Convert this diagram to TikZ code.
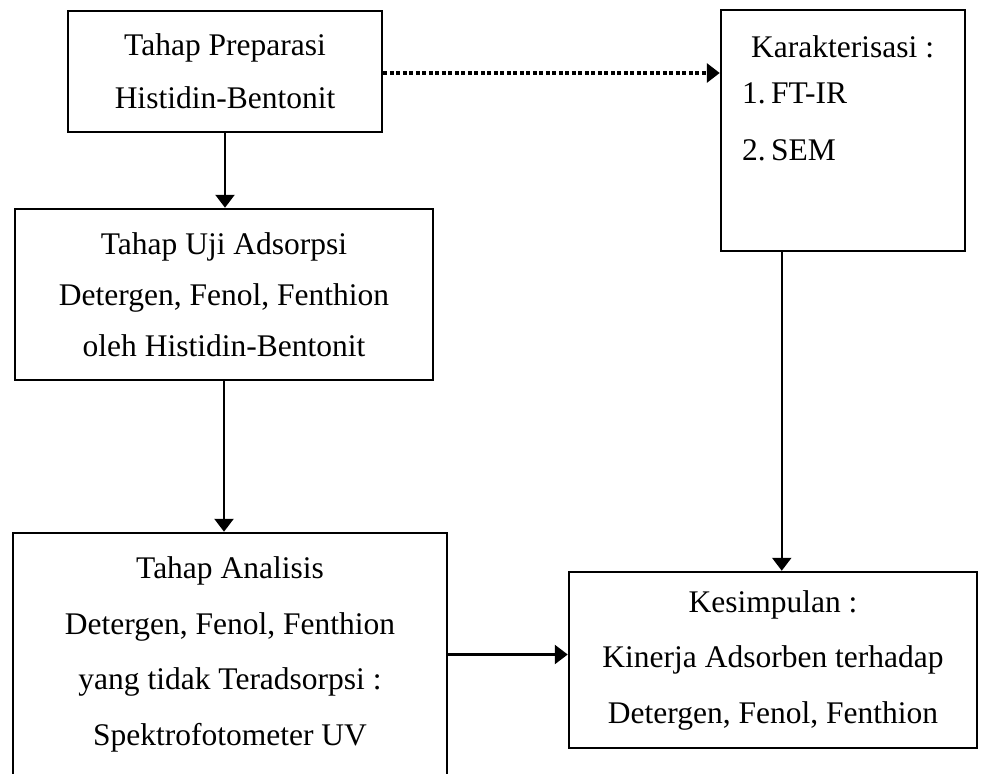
\documentclass[tikz,border=0pt]{standalone}
\usepackage{fontspec}
\setmainfont{Liberation Serif}
\usetikzlibrary{arrows.meta,calc}
\tikzset{
  box/.style={draw, line width=2.5pt, rectangle, inner sep=0pt, align=center},
  conn/.style={line width=2.5pt, -{Triangle[length=13pt,width=19pt]}},
  dotconn/.style={line width=4pt, dash pattern=on 4pt off 2.5pt, -{Triangle[length=13pt,width=19pt]}},
  ftext/.style={font={\fontsize{31.5}{53}\selectfont}}
}
\begin{document}
\begin{tikzpicture}[x=1pt,y=-1pt]
\useasboundingbox (0,0) rectangle (981,773);
\clip (0,0) rectangle (981,773);
\node[box, minimum width=314pt, minimum height=121pt, font={\fontsize{31.5}{53}\selectfont}] (prep) at (225,71.5) {Tahap Preparasi\\Histidin-Bentonit};
\node[box, minimum width=418pt, minimum height=171pt, font={\fontsize{31.5}{51}\selectfont}] (uji) at (224,294.5) {Tahap Uji Adsorpsi\\Detergen, Fenol, Fenthion\\oleh Histidin-Bentonit};
\node[box, minimum width=434pt, minimum height=243pt, font={\fontsize{31.5}{55.7}\selectfont}] (anal) at (230,654.5) {Tahap Analisis\\Detergen, Fenol, Fenthion\\yang tidak Teradsorpsi :\\Spektrofotometer UV};
\node[box, minimum width=244pt, minimum height=241pt] (kar) at (843,130.5) {};
\node[box, minimum width=408pt, minimum height=176pt, font={\fontsize{31.5}{55.5}\selectfont}] (kes) at (773,660) {Kesimpulan :\\Kinerja Adsorben terhadap\\Detergen, Fenol, Fenthion};
\node[ftext, anchor=base west, inner sep=0pt] (k0) at (751,58) {Karakterisasi :};
\node[ftext, anchor=base west, inner sep=0pt] (k1) at (742,103) {\makebox[29pt][l]{1.}FT-IR};
\node[ftext, anchor=base west, inner sep=0pt] (k2) at (742,160) {\makebox[29pt][l]{2.}SEM};
\draw[conn] (prep.south) -- (prep.south |- uji.north);
\draw[conn] (uji.south) -- (uji.south |- anal.north);
\draw[conn] (anal.east) -- (anal.east -| kes.west);
\draw[conn] ([xshift=62pt]kar.south west) -- ([xshift=62pt]kar.south west |- kes.north);
\draw[dotconn] ([yshift=-1.5pt]prep.east) -- ([yshift=-1.5pt]prep.east -| kar.west);
\end{tikzpicture}
\end{document}
